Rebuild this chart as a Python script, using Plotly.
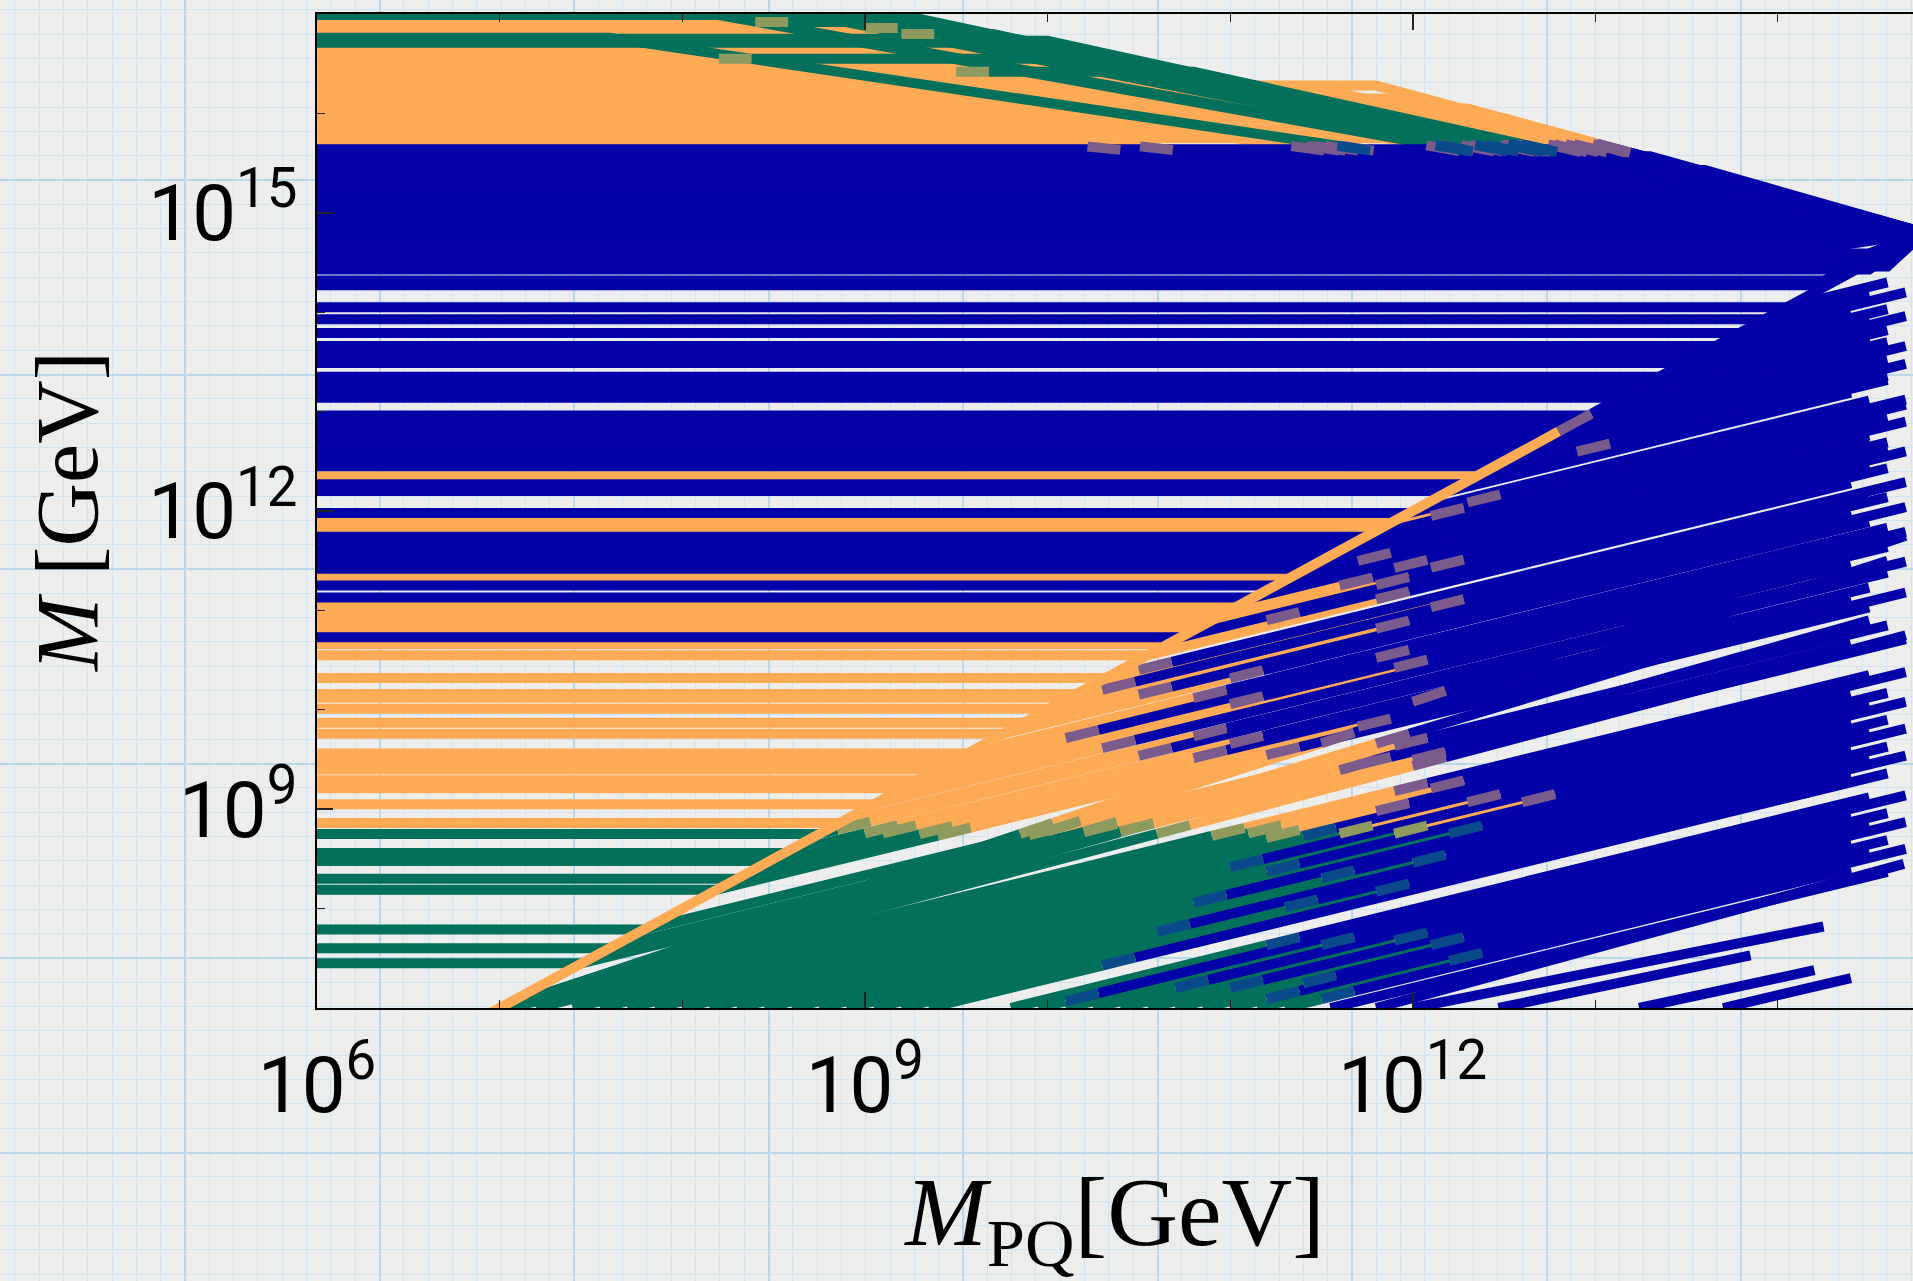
import plotly.graph_objects as go

# ---------------- data (all values are log10 of the mass in GeV) ----------------
x_tick_exp = [6, 9, 12]
x_minor_exp = [7, 8, 10, 11, 13, 14]
y_tick_exp = [9, 12, 15]
y_minor_exp = [7, 8, 10, 11, 13, 14, 16, 17]

# upper fan (orange / green): flat at top_v0 until top_turn, then falling to the tip
top_v0 = [16.99, 16.99, 16.99, 16.76, 16.74, 16.73, 16.71, 16.75,
          16.60, 16.35, 15.95,
          16.93, 16.86, 16.82, 16.64, 16.58, 16.52, 16.46, 16.40, 16.34, 16.28,
          16.22, 16.16, 16.10, 16.04, 15.98, 15.92, 15.86, 15.80, 15.75, 15.71,
          16.45, 16.15, 16.05, 15.85, 16.25, 16.50]
top_turn = [9.2, 8.2, 8.7, 7.6, 8.9, 10.0, 9.9, 9.5,
            10.2, 10.9, 12.5,
            9.3, 8.6, 9.5, 10.0, 8.3, 9.6, 10.5, 10.2, 8.9, 11.8,
            10.8, 9.4, 11.4, 10.0, 12.2, 10.6, 9.2, 11.7, 12.6, 10.3,
            10.6, 11.9, 12.3, 12.7, 11.5, 10.4]
top_col = ['G', 'G', 'G', 'G', 'G', 'G', 'G', 'G',
           'O', 'O', 'O',
           'O', 'O', 'O', 'O', 'O', 'O', 'O', 'O', 'O', 'O',
           'O', 'O', 'O', 'O', 'O', 'O', 'O', 'O', 'O', 'O',
           'O', 'O', 'O', 'O', 'O', 'O']
# upper fan lines that start orange and turn green
tg_v0 = [16.92, 16.86, 16.80, 16.55, 16.42]
tg_turn = [9.35, 9.5, 9.7, 10.3, 10.8]
tg_sw = [8.4, 9.0, 9.2, 8.2, 9.5]
tip_u, tip_v = 14.8, 14.8
blue_edge_v = 15.65

# upper blue band: flat at ub_v0 until ub_turn, then to the tip
ub_v0 = [15.64, 15.57, 15.50, 15.43, 15.36, 15.29, 15.22, 15.15, 15.08, 15.01,
         14.94, 14.87, 14.80, 14.73, 14.66, 14.59, 14.52, 14.46, 14.43, 14.32, 14.27]
ub_turn = [12.9, 13.3, 13.0, 13.6, 13.2, 13.8, 13.4, 14.0, 13.7, 14.1,
           13.9, 14.3, 14.2, 14.4, 14.3, 14.5, 14.4, 14.6, 14.5, 14.3, 14.2]

# middle lines: flat until they meet M = M_PQ, then rising to (end_u, end_v)
mb_v0 = [14.05, 13.93, 13.79, 13.66, 13.57, 13.49, 13.35, 13.27, 13.19, 13.14,
         12.96, 12.88, 12.80, 12.72, 12.64, 12.56, 12.48, 12.45,
         12.27, 12.20, 11.98, 11.74, 11.66, 11.58, 11.50, 11.42, 11.25, 11.13, 10.73]
mb_uend = [14.6, 14.5, 14.7, 14.4, 14.6, 14.5, 14.7, 14.4, 14.6, 14.5,
           14.6, 14.4, 14.7, 14.5, 14.6, 14.4, 14.7, 14.5,
           14.6, 14.4, 14.5, 14.7, 14.5, 14.6, 14.4, 14.7, 14.5, 14.6, 14.5]
mb_vend = [14.30, 14.19, 14.20, 13.99, 14.03, 13.94, 13.96, 13.78, 13.82, 13.75,
           13.70, 13.56, 13.66, 13.52, 13.52, 13.39, 13.48, 13.37,
           13.32, 13.19, 13.11, 13.07, 12.94, 12.94, 12.85, 12.90, 12.71, 12.69, 12.43]

mo_v0 = [12.35, 11.91, 11.83, 11.33, 11.04, 10.96, 10.88, 10.81, 10.66, 10.55,
         10.32, 10.16, 10.12, 10.01, 9.87, 9.76, 9.56, 9.48, 9.40, 9.29,
         9.21, 9.05, 8.86]
mo_sw = [12.9, 12.3, 12.1, 11.7, 11.9, 11.6, 12.1, 11.8, 11.2, 11.8,
         10.5, 12.1, 10.3, 11.8, 10.5, 11.0, 10.8, 11.8, 10.1, 11.0,
         11.9, 10.3, 10.8]
mo_uend = [14.6, 14.4, 14.7, 14.5, 14.6, 14.4, 14.7, 14.5, 14.6, 14.4,
           14.7, 14.5, 14.6, 14.4, 14.7, 14.5, 14.6, 14.4, 14.7, 14.5,
           14.6, 14.4, 14.7]
mo_vend = [13.36, 13.03, 13.12, 12.76, 12.64, 12.51, 12.60, 12.47, 12.43, 12.28,
           12.29, 12.11, 12.14, 11.99, 12.04, 11.89, 11.83, 11.69, 11.79, 11.63,
           11.64, 11.46, 11.49]

mg_v0 = [8.75, 8.56, 8.48, 8.30, 8.19, 7.79, 7.60, 7.45]
mg_sw1 = [8.85, 9.0, 9.1, 9.3, 9.4, 9.9, 10.2, 10.4]
mg_sw2 = [10.5, 11.0, 10.8, 11.7, 11.2, 11.9, 11.7, 12.0]
mg_uend = [14.6, 14.5, 14.4, 14.7, 14.5, 14.6, 14.4, 14.7]
mg_vend = [11.38, 11.23, 11.12, 11.18, 11.03, 10.85, 10.66, 10.71]

# lines entering through the lower edge (M = 1e7 GeV)
bt_uin = [7.0, 7.0, 7.02, 7.0, 7.0, 7.05, 7.20, 7.40, 7.55, 7.70, 7.85, 8.00, 8.15,
          8.30, 8.45, 8.60, 8.75, 8.90, 9.05, 9.20, 9.35, 9.80, 9.95,
          10.10, 10.25, 10.40, 10.55, 10.70, 10.85, 11.00, 11.15, 11.30,
          11.55, 11.80, 12.00, 12.47, 13.24, 13.70]
bt_uend = [14.6, 14.4, 14.7, 14.5, 14.7, 14.5, 14.7, 14.4, 14.6, 14.5, 14.7, 14.4, 14.6,
           14.5, 14.7, 14.4, 14.6, 14.5, 14.7, 14.4, 14.6, 14.5, 14.7,
           14.4, 14.6, 14.5, 14.7, 14.4, 14.6, 14.5, 14.7, 14.4,
           14.6, 14.69, 14.25, 13.85, 14.2, 14.4]
bt_vend = [11.50, 11.10, 11.75, 10.90, 10.75, 10.35, 10.38, 10.15, 10.17, 10.06, 10.08, 9.88, 9.90,
           9.79, 9.81, 9.61, 9.63, 9.52, 9.54, 9.34, 9.36, 9.12, 9.14,
           8.94, 8.96, 8.85, 8.87, 8.67, 8.69, 8.58, 8.60, 8.40,
           8.37, 8.45, 7.82, 7.53, 7.38, 7.30]
bt_c0 = ['G'] * 32 + ['B'] * 6
bt_sw1 = [10.0, 10.2, 9.85, 10.4, 10.6, 10.9, 11.1, 11.2, 11.4, 11.6, 11.0, 11.9, 11.2,
          12.2, 10.8, 11.5, 12.0, 10.6, 11.3, 11.8, 10.3, 11.2, 10.1,
          11.5, 10.7, 11.9, 11.0, 12.1, 11.4, 11.2, 12.2, 11.5,
          None, None, None, None, None, None]
bt_c1 = ['O', 'O', 'O', 'O', 'O', 'O', 'O', 'O', 'B', 'O', 'B', 'O', 'B'] + ['B'] * 25
bt_sw2 = [11.5, 11.8, 12.0, 11.6, 12.0, 11.9, 12.1, 11.8, None, 12.3, None, 12.6, None] + [None] * 25

# the M = M_PQ line
diag_u = [6.95, 14.8]
diag_sw = 12.8

x_lo, x_hi = 6.0, 14.74
y_lo, y_hi = 7.0, 17.0

# ---------------- styles ----------------
COL = {'O': '#FFAA55', 'G': '#02705A', 'B': '#0202A8',
       'OB': '#7B5A8C', 'GO': '#8E9A5E', 'OG': '#8E9A5E', 'GB': '#0A4A8A'}
BL = 0.18
LW = 10

segs = {k: [] for k in COL}
diag_segs = {k: [] for k in COL}


def v_at(path, u):
    for (ua, va), (ub, vb) in zip(path[:-1], path[1:]):
        if ua <= u <= ub:
            return va if ub == ua else va + (vb - va) * (u - ua) / (ub - ua)
    return path[-1][1] if u > path[-1][0] else path[0][1]


def piece(path, a, b):
    pts = [(a, v_at(path, a))]
    pts += [p for p in path if a < p[0] < b]
    pts.append((b, v_at(path, b)))
    return pts


def add(path, cols, sws, store=segs):
    u0, u1 = path[0][0], path[-1][0]
    cur = u0
    for i, c in enumerate(cols):
        end = u1 if i == len(cols) - 1 else min(sws[i], u1)
        if end > cur:
            store[c].append(piece(path, cur, end))
        cur = max(cur, end)
        if i < len(cols) - 1:
            bend = min(sws[i] + BL, u1)
            if bend > cur:
                store[cols[i] + cols[i + 1]].append(piece(path, cur, bend))
            cur = max(cur, bend)


def crossing(v0, t):
    return t + (v0 - blue_edge_v) / (v0 - tip_v) * (tip_u - t)


for v0, t, c in zip(top_v0, top_turn, top_col):
    path = [(x_lo, v0), (t, v0), (tip_u, tip_v)]
    add(path, [c, 'B'], [crossing(v0, t) - BL / 2])

for v0, t, s in zip(tg_v0, tg_turn, tg_sw):
    path = [(x_lo, v0), (t, v0), (tip_u, tip_v)]
    add(path, ['O', 'G', 'B'], [s, crossing(v0, t) - BL / 2])

for v0, t in zip(ub_v0, ub_turn):
    add([(x_lo, v0), (t, v0), (tip_u, tip_v)], ['B'], [])

for v0, ue, ve in zip(mb_v0, mb_uend, mb_vend):
    add([(x_lo, v0), (v0, v0), (ue, ve)], ['B'], [])

for v0, sw, ue, ve in zip(mo_v0, mo_sw, mo_uend, mo_vend):
    add([(x_lo, v0), (v0, v0), (ue, ve)], ['O', 'B'], [sw])

for v0, s1, s2, ue, ve in zip(mg_v0, mg_sw1, mg_sw2, mg_uend, mg_vend):
    add([(x_lo, v0), (v0, v0), (ue, ve)], ['G', 'O', 'B'], [s1, s2])

for ui, ue, ve, c0, s1, c1, s2 in zip(bt_uin, bt_uend, bt_vend, bt_c0, bt_sw1, bt_c1, bt_sw2):
    path = [(ui, y_lo), (ue, ve)]
    if s1 is None:
        add(path, [c0], [])
    elif s2 is None:
        add(path, [c0, c1], [s1])
    else:
        add(path, [c0, c1, 'B'], [s1, s2])

add([(diag_u[0], diag_u[0]), (diag_u[1], diag_u[1])], ['O', 'B'], [diag_sw], store=diag_segs)


def trace(paths, color):
    xs, ys = [], []
    for p in paths:
        xs += [10 ** u for u, v in p] + [None]
        ys += [10 ** v for u, v in p] + [None]
    return go.Scatter(x=xs, y=ys, mode='lines', line=dict(color=color, width=LW),
                      hoverinfo='skip', showlegend=False, xaxis='x2', yaxis='y2')


fig = go.Figure()
# invisible trace that holds the graph-paper background subplot
fig.add_trace(go.Scatter(x=[0], y=[0], mode='markers', marker=dict(opacity=0),
                         hoverinfo='skip', showlegend=False))
for k in ['O', 'G', 'B', 'OB', 'GO', 'OG', 'GB']:
    if segs[k]:
        fig.add_trace(trace(segs[k], COL[k]))
for k in ['O', 'OB', 'B']:
    if diag_segs[k]:
        fig.add_trace(trace(diag_segs[k], COL[k]))

W, H = 1913, 1281
tick_font = dict(family='Roboto, Liberation Sans, sans-serif', size=78, color='black')
title_font = dict(family='Liberation Serif, DejaVu Serif, serif', color='black')

grid_major = '#B9D8EA'
grid_minor = '#D1E4EF'

fig.update_layout(
    width=W, height=H, template='none', showlegend=False,
    margin=dict(l=0, r=0, t=0, b=0),
    paper_bgcolor='#EDEDED', plot_bgcolor='rgba(0,0,0,0)',
    xaxis=dict(domain=[0, 1], range=[0, W], showgrid=True, gridcolor=grid_major, gridwidth=2,
               tick0=185, dtick=194.5,
               minor=dict(showgrid=True, tick0=185, dtick=194.5 / 8, gridcolor=grid_minor, gridwidth=1),
               showticklabels=False, ticks='', zeroline=False, showline=False, fixedrange=True,
               automargin=False),
    yaxis=dict(domain=[0, 1], range=[H, 0], showgrid=True, gridcolor=grid_major, gridwidth=2,
               tick0=180, dtick=194.5,
               minor=dict(showgrid=True, tick0=180, dtick=194.5 / 8, gridcolor=grid_minor, gridwidth=1),
               showticklabels=False, ticks='', zeroline=False, showline=False, fixedrange=True,
               automargin=False),
    xaxis2=dict(domain=[317 / W, 1], anchor='y2', type='log', range=[x_lo, x_hi],
                showgrid=False, zeroline=False, showline=True, linecolor='black', linewidth=2,
                mirror='ticks', ticks='inside', ticklen=16, tickwidth=1.5, tickcolor='#222',
                tickmode='array', tickvals=[10 ** e for e in x_tick_exp],
                ticktext=['10<sup>%d</sup>' % e for e in x_tick_exp],
                minor=dict(tickmode='array', tickvals=[10 ** e for e in x_minor_exp],
                           ticks='inside', ticklen=8, tickwidth=1.2, tickcolor='#222'),
                tickfont=tick_font, ticklabelstandoff=8, automargin=False,
                title=dict(text='<i>M</i><sub>PQ</sub>[GeV]', font=dict(size=98, **title_font),
                           standoff=66)),
    yaxis2=dict(domain=[(H - 1008) / H, (H - 14) / H], anchor='x2', type='log', range=[y_lo, y_hi],
                showgrid=False, zeroline=False, showline=True, linecolor='black', linewidth=2,
                mirror=False, ticks='inside', ticklen=16, tickwidth=1.5, tickcolor='#222',
                tickmode='array', tickvals=[10 ** e for e in y_tick_exp],
                ticktext=['10<sup>%d</sup>' % e for e in y_tick_exp],
                minor=dict(tickmode='array', tickvals=[10 ** e for e in y_minor_exp],
                           ticks='inside', ticklen=8, tickwidth=1.2, tickcolor='#222'),
                tickfont=tick_font, ticklabelstandoff=2, automargin=False,
                title=dict(text='<i>M</i> [GeV]', font=dict(size=88, **title_font), standoff=22)),
)

fig.write_html('out.html')
